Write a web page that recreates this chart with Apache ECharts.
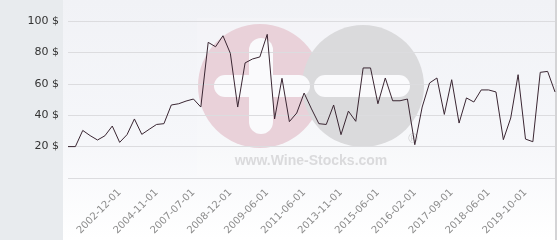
<!DOCTYPE html>
<html><head><meta charset="utf-8">
<script src="https://cdn.jsdelivr.net/npm/echarts@6/dist/echarts.min.js"></script>
<style>html,body{margin:0;padding:0;background:#fff}#c{width:560px;height:240px}</style>
</head><body><div id="c"></div>
<script>
// Category dates (only the labelled ones are readable in the reference)
const dates = [
  '', '', '', '', '', '', '', '2002-12-01', '', '',
  '', '', '2004-11-01', '', '', '', '', '2007-07-01', '', '',
  '', '', '2008-12-01', '', '', '', '', '2009-06-01', '', '',
  '', '', '2011-06-01', '', '', '', '', '2013-11-01', '', '',
  '', '', '2015-06-01', '', '', '', '', '2016-02-01', '', '',
  '', '', '2017-09-01', '', '', '', '', '2018-06-01', '', '',
  '', '', '2019-10-01', '', '', '', ''
];
const prices = [
  20, 20, 30.3, 27, 24.2, 26.9, 33.1, 22.7, 27.6, 37.6,
  27.8, 31, 34.1, 34.6, 46.5, 47.3, 49, 50.3, 45.2, 86.4,
  83.6, 90.6, 79.4, 45.2, 73.3, 75.8, 77.1, 91.5, 37.6, 63.5,
  35.9, 41.4, 54.1, 44, 34.6, 34.1, 46.5, 27.6, 42.6, 36.1,
  70.1, 70.1, 47.3, 63.7, 49.2, 49.2, 50.3, 21.2, 45.2, 60.5,
  63.7, 40.5, 62.6, 35, 51, 48.4, 56.1, 56.1, 54.8, 24.4,
  38.2, 65.8, 24.8, 23.1, 67.3, 67.9, 54.8
];
const yMin = 0, yMax = 100, yStep = 20;
const unit = ' $';
const watermarkText = 'www.Wine-Stocks.com';

const chart = echarts.init(document.getElementById('c'), null, {renderer: 'canvas'});
chart.setOption({
  animation: false,
  grid: {left: 68, right: 5, top: 21, bottom: 62, containLabel: false},
  graphic: {elements: [
    {type: 'rect', z: -20, shape: {x: 0, y: 0, width: 63, height: 240}, style: {fill: '#e8ebee'}},
    {type: 'rect', z: -20, shape: {x: 63, y: 0, width: 492, height: 240},
      style: {fill: new echarts.graphic.LinearGradient(0, 0, 0, 1, [
        {offset: 0, color: '#f1f2f6'}, {offset: 0.6, color: '#f6f7fa'}, {offset: 1, color: '#ffffff'}])}},
    {type: 'rect', z: -20, shape: {x: 555, y: 0, width: 2, height: 240}, style: {fill: '#d4d4d6'}},
    {type: 'rect', z: -19, shape: {x: 197, y: 18, width: 233, height: 158}, style: {fill: '#ffffff', opacity: 0.15}},
    {type: 'circle', z: -18, shape: {cx: 260, cy: 86, r: 62}, style: {fill: '#e9d1d9'}},
    {type: 'circle', z: -17, shape: {cx: 363, cy: 86, r: 61}, style: {fill: '#dadadc'}},
    {type: 'rect', z: -16, shape: {x: 249, y: 38, width: 24, height: 96, r: 12}, style: {fill: '#fafafc'}},
    {type: 'rect', z: -16, shape: {x: 214, y: 75, width: 96, height: 22, r: 11}, style: {fill: '#fafafc'}},
    {type: 'rect', z: -16, shape: {x: 314, y: 75, width: 96, height: 22, r: 11}, style: {fill: '#fafafc'}},
    {type: 'text', z: -15, x: 311, y: 161, style: {text: watermarkText, fill: '#dadadc',
      font: 'bold 14px "Liberation Sans", Arial, sans-serif', align: 'center', verticalAlign: 'middle'}},
    {type: 'text', z: -15, x: 413, y: 139, style: {text: '\u00AE', fill: '#d2d2d4',
      font: '13px "Liberation Sans", Arial, sans-serif', align: 'center', verticalAlign: 'middle'}}
  ]},
  xAxis: {
    type: 'category', data: dates, boundaryGap: false,
    axisLine: {show: false}, axisTick: {show: false},
    axisLabel: {interval: 0, rotate: 45, color: '#8c8c8c', fontSize: 10,
      fontFamily: '"DejaVu Sans", sans-serif', margin: 13},
    splitLine: {show: false}
  },
  yAxis: {
    type: 'value', min: yMin, max: yMax, interval: yStep,
    axisLine: {show: false}, axisTick: {show: false},
    axisLabel: {showMinLabel: false, color: '#333', fontSize: 11,
      fontFamily: '"DejaVu Sans", sans-serif', margin: 9,
      formatter: v => v + unit},
    splitLine: {lineStyle: {color: '#dcdcdf', width: 1}}
  },
  series: [{
    type: 'line', data: prices, symbol: 'none',
    lineStyle: {color: '#3a2632', width: 1}
  }]
});
</script></body></html>
